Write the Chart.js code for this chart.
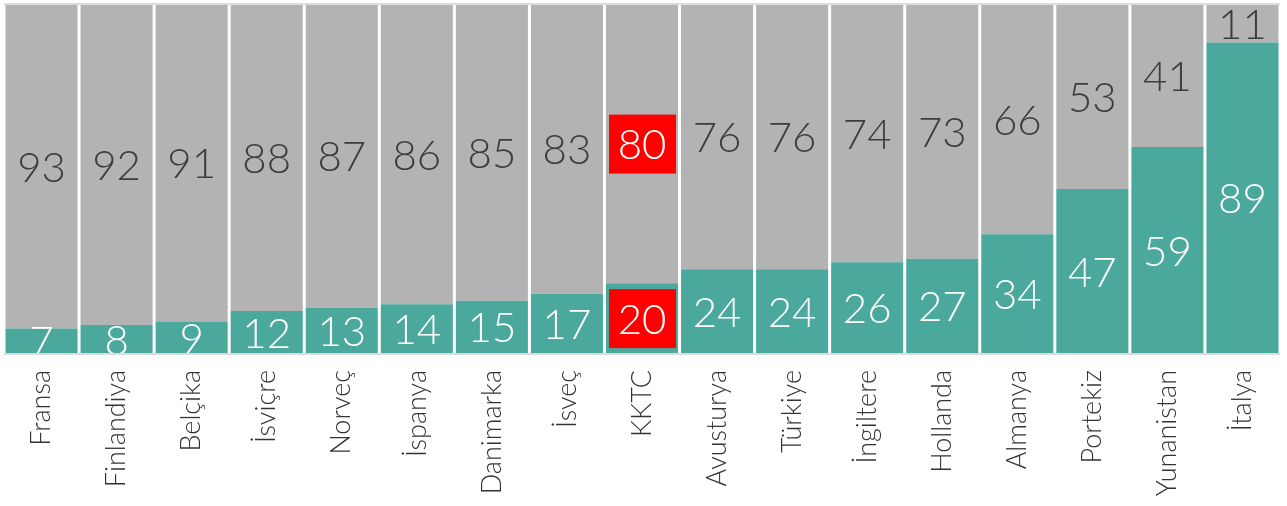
<!DOCTYPE html>
<html>
<head>
<meta charset="utf-8">
<script src="https://cdn.jsdelivr.net/npm/chart.js@4/dist/chart.umd.min.js"></script>
<style>
  html, body { margin: 0; padding: 0; background: #fff; }
  #wrap { width: 1287px; height: 506px; }
</style>
</head>
<body>
<div id="wrap"><canvas id="chart"></canvas></div>
<script>
const countries = ['Fransa', 'Finlandiya', 'Belçika', 'İsviçre', 'Norveç', 'İspanya', 'Danimarka', 'İsveç', 'KKTC',
  'Avusturya', 'Türkiye', 'İngiltere', 'Hollanda', 'Almanya', 'Portekiz', 'Yunanistan', 'İtalya'];
const yes = [7, 8, 9, 12, 13, 14, 15, 17, 20, 24, 24, 26, 27, 34, 47, 59, 89];
const no = [93, 92, 91, 88, 87, 86, 85, 83, 80, 76, 76, 74, 73, 66, 53, 41, 11];
const highlight = 'KKTC';

const FONT = 'Lato, "Open Sans", sans-serif';

// value labels centred in each segment, red box for the highlighted country
const segmentLabels = {
  id: 'segmentLabels',
  afterDatasetsDraw(chart) {
    const ctx = chart.ctx;
    const area = chart.chartArea;
    ctx.save();
    ctx.beginPath();
    ctx.rect(area.left, area.top, area.right - area.left, area.bottom - area.top);
    ctx.clip();
    ctx.font = '300 42px ' + FONT;
    ctx.textAlign = 'center';
    ctx.textBaseline = 'middle';
    chart.data.datasets.forEach((ds, di) => {
      chart.getDatasetMeta(di).data.forEach((bar, i) => {
        const top = Math.min(bar.y, bar.base);
        const bottom = Math.max(bar.y, bar.base);
        const cy = (top + bottom) / 2;
        if (countries[i] === highlight) {
          ctx.fillStyle = '#ff0000';
          ctx.fillRect(bar.x - 33, cy - 29, 67, 59);
          ctx.fillStyle = '#ffffff';
        } else {
          ctx.fillStyle = di === 0 ? '#ffffff' : '#3d3d3d';
        }
        ctx.fillText(String(ds.data[i]), bar.x, cy + 2);
      });
    });
    ctx.restore();
    // thin frame lines at top and bottom of the plot
    ctx.save();
    ctx.strokeStyle = '#dcdcdc';
    ctx.lineWidth = 2;
    ctx.beginPath();
    ctx.moveTo(area.left, area.top);
    ctx.lineTo(area.right, area.top);
    ctx.moveTo(area.left, area.bottom + 1);
    ctx.lineTo(area.right, area.bottom + 1);
    ctx.stroke();
    ctx.restore();
  }
};

new Chart(document.getElementById('chart'), {
  type: 'bar',
  data: {
    labels: countries,
    datasets: [
      { label: 'Evet', data: yes, backgroundColor: '#4ba89c' },
      { label: 'Hayır', data: no, backgroundColor: '#b3b3b3' }
    ]
  },
  options: {
    responsive: true,
    maintainAspectRatio: false,
    animation: false,
    layout: { autoPadding: false, padding: { top: 4, left: 4, right: 7, bottom: 0 } },
    datasets: { bar: { categoryPercentage: 1, barPercentage: 0.96 } },
    plugins: {
      legend: { display: false },
      tooltip: { enabled: false }
    },
    scales: {
      x: {
        stacked: true,
        grid: { display: false, drawTicks: false },
        border: { display: false },
        afterFit(scale) {
          scale.height = 153;
          scale.paddingLeft = 0;
          scale.paddingRight = 0;
        },
        ticks: {
          color: '#333',
          font: { family: FONT, size: 27, weight: 300 },
          maxRotation: 90,
          minRotation: 90,
          padding: 17,
          autoSkip: false
        }
      },
      y: {
        stacked: true,
        display: false,
        min: 0,
        max: 100
      }
    }
  },
  plugins: [segmentLabels]
});
</script>
</body>
</html>
